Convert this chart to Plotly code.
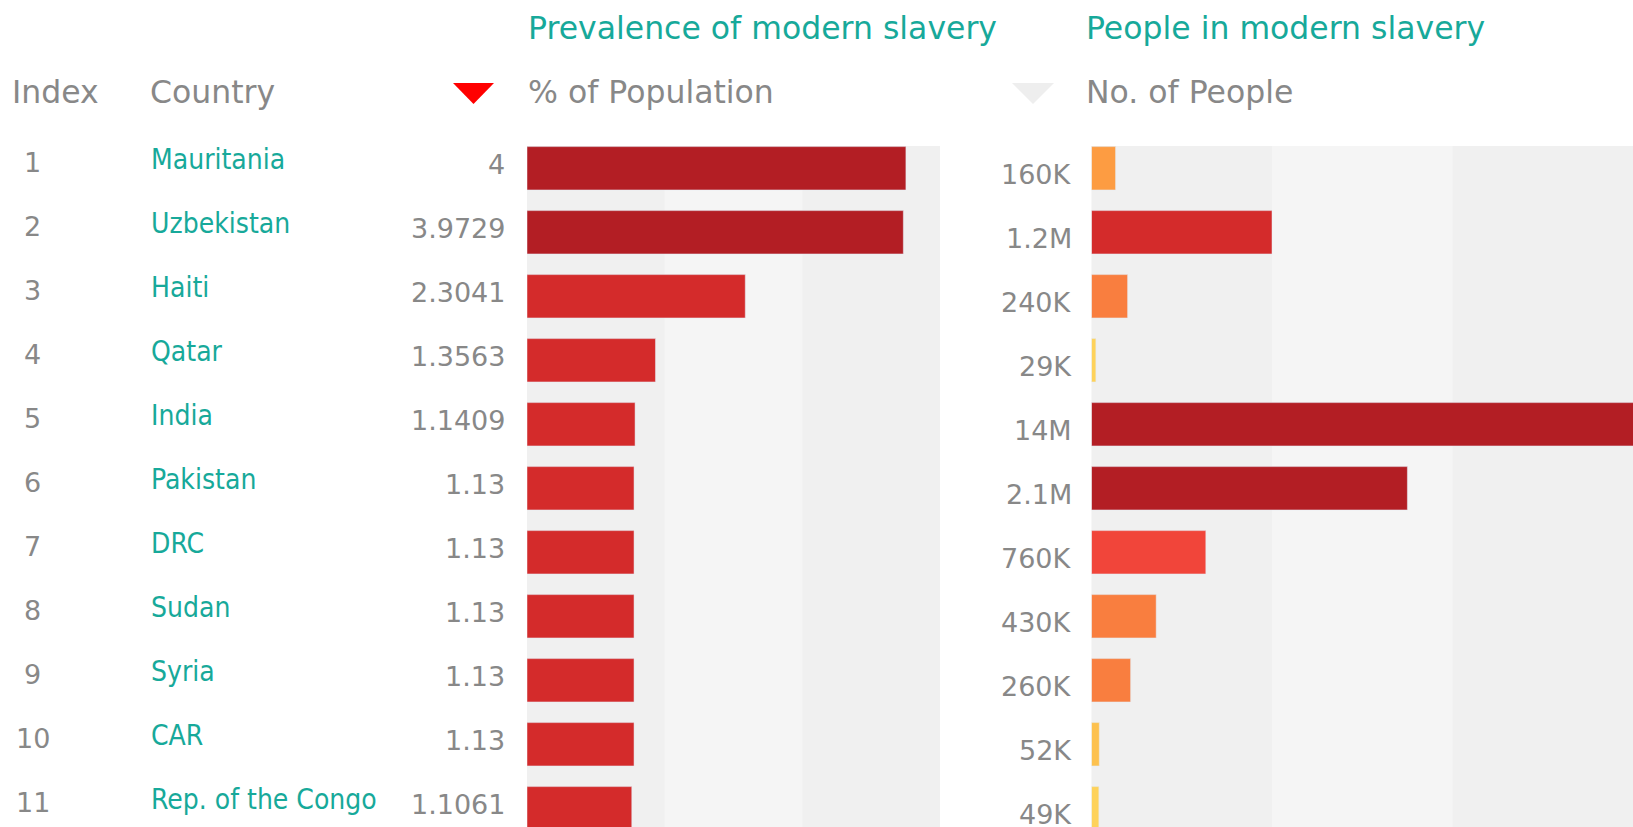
import plotly.graph_objects as go

# ---- data ----
ranks = [1, 2, 3, 4, 5, 6, 7, 8, 9, 10, 11]
countries = ["Mauritania", "Uzbekistan", "Haiti", "Qatar", "India", "Pakistan",
             "DRC", "Sudan", "Syria", "CAR", "Rep. of the Congo"]
prevalence = [4, 3.9729, 2.3041, 1.3563, 1.1409, 1.13, 1.13, 1.13, 1.13, 1.13, 1.1061]
prevalence_labels = ["4", "3.9729", "2.3041", "1.3563", "1.1409", "1.13", "1.13",
                     "1.13", "1.13", "1.13", "1.1061"]
people = [160000, 1200000, 240000, 29000, 14000000, 2100000, 760000, 430000,
          260000, 52000, 49000]
people_labels = ["160K", "1.2M", "240K", "29K", "14M", "2.1M", "760K", "430K",
                 "260K", "52K", "49K"]
prev_colors = ["#b31e24", "#b31e24", "#d42b2b", "#d42b2b", "#d42b2b", "#d42b2b",
               "#d42b2b", "#d42b2b", "#d42b2b", "#d42b2b", "#d42b2b"]
people_colors = ["#fd9c42", "#d42b2b", "#f97e3f", "#fed25a", "#b31e24", "#b31e24",
                 "#f1453a", "#f97e3f", "#f97e3f", "#fdc14e", "#fed25a"]

W, H = 1633, 827
FONT = "DejaVu Sans Condensed, DejaVu Sans, sans-serif"
HFONT = "DejaVu Sans, sans-serif"
GRAY = "#888888"
TEAL = "#17a99a"

def px(x):
    return x / W

def py(y):
    return 1 - y / H

rows = list(range(len(countries)))

fig = go.Figure()
fig.add_trace(go.Bar(x=prevalence, y=rows, orientation="h", marker_color=prev_colors,
                     width=0.677, xaxis="x", yaxis="y", hoverinfo="skip"))
fig.add_trace(go.Bar(x=people, y=rows, orientation="h", marker_color=people_colors,
                     width=0.677, xaxis="x2", yaxis="y2", hoverinfo="skip"))

ytop = 146
yrange = [-0.348 + (H - ytop) / 64.0, -0.348]
axis_off = dict(showgrid=False, zeroline=False, showticklabels=False, ticks="",
                showline=False, fixedrange=True)

fig.update_layout(
    width=W, height=H,
    margin=dict(l=0, r=0, t=0, b=0),
    paper_bgcolor="white", plot_bgcolor="#f0f0f0",
    showlegend=False,
    xaxis=dict(domain=[px(527), px(940)], range=[0, 4.36], **axis_off),
    yaxis=dict(domain=[0, py(ytop)], range=yrange, **axis_off),
    xaxis2=dict(domain=[px(1091.5), 1], range=[0, 3.6e6], anchor="y2", **axis_off),
    yaxis2=dict(domain=[0, py(ytop)], range=yrange, anchor="x2", **axis_off),
    font=dict(family=FONT),
)

# middle bands
for xr, yr in (("x domain", "y domain"), ("x2 domain", "y2 domain")):
    fig.add_shape(type="rect", xref=xr, yref=yr, x0=1/3, x1=2/3, y0=0, y1=1,
                  fillcolor="#f5f5f5", line_width=0, layer="below")

ann = []
for i in rows:
    ann.append(dict(x=px(32.5), y=i, xref="paper", yref="y", text=str(ranks[i]),
                    xanchor="center", yanchor="middle", yshift=6, showarrow=False,
                    font=dict(size=27, color=GRAY, family=HFONT)))
    ann.append(dict(x=px(148.5), y=i, xref="paper", yref="y", text=countries[i],
                    xanchor="left", yanchor="middle", yshift=9, showarrow=False,
                    font=dict(size=28, color=TEAL, family=FONT)))
    ann.append(dict(x=px(507), y=i, xref="paper", yref="y", text=prevalence_labels[i],
                    xanchor="right", yanchor="middle", yshift=4, showarrow=False,
                    font=dict(size=27, color=GRAY, family=HFONT)))
    ann.append(dict(x=px(1073.5), y=i, xref="paper", yref="y2", text=people_labels[i],
                    xanchor="right", yanchor="middle", yshift=-6, showarrow=False,
                    font=dict(size=27, color=GRAY, family=HFONT)))

headers = [("Index", 10, 92.5, GRAY), ("Country", 148, 92.5, GRAY),
           ("% of Population", 526, 92.5, GRAY), ("No. of People", 1084, 92.5, GRAY),
           ("Prevalence of modern slavery", 526, 28.5, TEAL),
           ("People in modern slavery", 1084, 28.5, TEAL)]
for t, x, y, c in headers:
    ann.append(dict(x=px(x), y=py(y), xref="paper", yref="paper", text=t,
                    xanchor="left", yanchor="middle", showarrow=False,
                    font=dict(size=31.5, color=c, family=HFONT)))
fig.update_layout(annotations=ann)

# sort triangles
for x0, x1, col in ((453, 494, "#ff0000"), (1012, 1054, "#eeeeee")):
    xm = (x0 + x1) / 2
    path = f"M {px(x0)} {py(83)} L {px(x1)} {py(83)} L {px(xm)} {py(104)} Z"
    fig.add_shape(type="path", xref="paper", yref="paper", path=path,
                  fillcolor=col, line_width=0)

fig.write_html("out.html", config={"displayModeBar": False})
